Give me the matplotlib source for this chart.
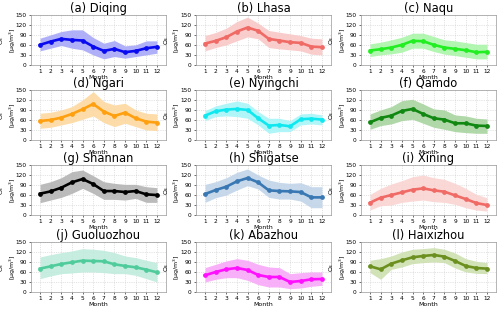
import numpy as np
import matplotlib
matplotlib.use("Agg")
import matplotlib.pyplot as plt

# ──────────────────────────────────────────────
#  DATOS (O3 mensual por ciudad)
# ──────────────────────────────────────────────
months = np.arange(1, 13)

titles = ["(a) Diqing", "(b) Lhasa", "(c) Naqu", "(d) Ngari",
          "(e) Nyingchi", "(f) Qamdo", "(g) Shannan", "(h) Shigatse",
          "(i) Xining", "(j) Guoluozhou", "(k) Abazhou", "(l) Haixizhou"]

line_colors = ["#0a0af0", "#f06a66", "#22ee22", "#ffa010",
               "#10e8f0", "#118811", "#000000", "#3a78b4",
               "#f06a66", "#50cc9c", "#ff10ff", "#6b9020"]
fill_colors = ["#a8a8f8", "#f8c8c6", "#aaf5aa", "#fdd9a0",
               "#a8f5f8", "#a8d4a0", "#b4b4b4", "#c0d4e8",
               "#fad4d2", "#c0ecdc", "#f8a8f8", "#cde0b0"]

mean_a = [60, 70, 78, 75, 73, 55, 42, 48, 38, 42, 50, 54]
up_a = [80, 90, 100, 105, 105, 82, 65, 73, 57, 60, 72, 72]
lo_a = [42, 50, 58, 50, 45, 30, 18, 25, 20, 25, 30, 35]

mean_b = [64, 72, 83, 100, 112, 102, 78, 73, 68, 66, 55, 53]
up_b = [88, 97, 110, 130, 143, 125, 103, 98, 93, 88, 80, 78]
lo_b = [42, 52, 60, 72, 84, 78, 52, 48, 45, 42, 32, 30]

mean_c = [43, 47, 52, 60, 72, 71, 60, 52, 48, 44, 38, 39]
up_c = [63, 68, 75, 83, 95, 95, 85, 75, 72, 67, 62, 62]
lo_c = [25, 30, 33, 38, 50, 50, 40, 32, 28, 23, 18, 18]

mean_d = [57, 60, 67, 78, 92, 108, 85, 72, 82, 65, 55, 52]
up_d = [80, 83, 90, 100, 120, 145, 115, 105, 110, 90, 80, 78]
lo_d = [35, 38, 45, 52, 62, 72, 52, 40, 50, 40, 30, 28]

mean_e = [73, 86, 91, 93, 90, 65, 43, 45, 41, 62, 64, 61]
up_e = [88, 102, 110, 117, 110, 85, 65, 65, 58, 78, 80, 75]
lo_e = [58, 70, 72, 70, 65, 45, 20, 25, 25, 45, 48, 45]

mean_f = [53, 66, 73, 87, 93, 78, 65, 61, 50, 50, 43, 42]
up_f = [78, 90, 100, 118, 122, 108, 93, 90, 75, 72, 65, 63]
lo_f = [32, 43, 48, 58, 62, 50, 38, 32, 25, 22, 20, 20]

mean_g = [64, 71, 82, 98, 108, 93, 72, 72, 69, 72, 62, 60]
up_g = [92, 100, 112, 130, 135, 118, 100, 95, 92, 92, 85, 82]
lo_g = [37, 45, 53, 65, 80, 65, 47, 47, 45, 50, 38, 38]

mean_h = [63, 75, 85, 101, 111, 98, 74, 72, 71, 69, 53, 53]
up_h = [92, 100, 112, 128, 138, 120, 105, 98, 95, 97, 85, 85]
lo_h = [38, 52, 60, 75, 88, 78, 53, 48, 48, 42, 22, 22]

mean_i = [37, 52, 60, 68, 76, 80, 74, 70, 59, 48, 36, 30]
up_i = [62, 80, 93, 103, 115, 120, 112, 107, 95, 80, 62, 52]
lo_i = [15, 28, 30, 38, 42, 45, 40, 38, 32, 22, 15, 12]

mean_j = [70, 77, 84, 89, 94, 93, 92, 83, 78, 74, 67, 59]
up_j = [105, 112, 118, 123, 130, 128, 125, 118, 108, 103, 95, 88]
lo_j = [40, 48, 55, 57, 60, 60, 58, 55, 55, 50, 40, 30]

mean_k = [50, 60, 68, 72, 66, 51, 45, 45, 30, 33, 38, 39]
up_k = [73, 83, 93, 100, 95, 83, 75, 73, 55, 58, 60, 60]
lo_k = [30, 38, 43, 43, 35, 22, 15, 15, 10, 12, 17, 20]

mean_l = [77, 68, 85, 95, 104, 108, 111, 106, 93, 78, 72, 70]
up_l = [95, 100, 108, 120, 128, 130, 133, 128, 117, 100, 92, 88]
lo_l = [58, 38, 68, 75, 85, 88, 90, 88, 72, 60, 56, 55]

means = [mean_a, mean_b, mean_c, mean_d, mean_e, mean_f,
         mean_g, mean_h, mean_i, mean_j, mean_k, mean_l]
uppers = [up_a, up_b, up_c, up_d, up_e, up_f,
          up_g, up_h, up_i, up_j, up_k, up_l]
lowers = [lo_a, lo_b, lo_c, lo_d, lo_e, lo_f,
          lo_g, lo_h, lo_i, lo_j, lo_k, lo_l]

# ──────────────────────────────────────────────
#  FIGURA
# ──────────────────────────────────────────────
fig = plt.figure(figsize=(5.0, 3.09), dpi=100)

col_left = [0.062, 0.392, 0.722]
row_bottom = [0.790, 0.547, 0.304, 0.055]
w, h = 0.27, 0.162

for i in range(12):
    r, c = divmod(i, 3)
    ax = fig.add_axes([col_left[c], row_bottom[r], w, h])
    ax.fill_between(months, lowers[i], uppers[i], color=fill_colors[i],
                    linewidth=0, alpha=0.9, zorder=1)
    ax.plot(months, means[i], "-o", color=line_colors[i], linewidth=1.9,
            markersize=2.4, zorder=3)

    ax.set_xlim(0.15, 12.85)
    ax.set_ylim(0, 150)
    ax.set_xticks(months)
    ax.set_yticks(np.arange(0, 151, 30))
    ax.tick_params(labelsize=4.2, length=1.5, width=0.4, pad=1.5)
    ax.grid(True, linestyle=(0, (2, 2)), color="#cccccc", linewidth=0.4)
    ax.set_axisbelow(True)
    for s in ax.spines.values():
        s.set_color("#999999")
        s.set_linewidth(0.5)

    ax.set_title(titles[i], fontsize=8.3, pad=1.2)
    ax.set_xlabel("Month", fontsize=4.5, labelpad=0.5)
    ax.set_ylabel("O$_3$\n[μg/m$^3$]", fontsize=4.5, linespacing=1.1)
    ax.yaxis.set_label_coords(-0.10, 0.5)

fig.savefig("out.png", dpi=100)
